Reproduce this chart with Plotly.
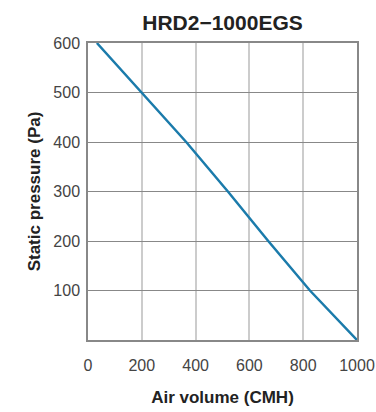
import plotly.graph_objects as go

air_volume = [33, 200, 365, 520, 670, 825, 1000]
static_pressure = [600, 500, 400, 300, 200, 100, 0]
x_ticks = [0, 200, 400, 600, 800, 1000]
y_ticks = [100, 200, 300, 400, 500, 600]

fig = go.Figure()
fig.add_trace(go.Scatter(x=air_volume, y=static_pressure, mode="lines",
                         line=dict(color="#1b7bab", width=2.5), showlegend=False))

fig.update_layout(
    width=376, height=412,
    margin=dict(l=88, r=19, t=43, b=72, autoexpand=False),
    paper_bgcolor="white", plot_bgcolor="white",
    font=dict(family="Liberation Sans, Arial, sans-serif", color="#444"),
    title=dict(text="<b>HRD2\u22121000EGS</b>", x=0.5, xanchor="center", xref="paper",
               y=1 - 23 / 412, yref="container", yanchor="middle",
               font=dict(size=21, color="#222")),
)
fig.update_xaxes(range=[0, 1000], tickvals=x_ticks, showgrid=True, gridcolor="#cccccc",
                 gridwidth=1.5, showline=True, linecolor="#888", linewidth=1.5, mirror=True,
                 zeroline=False, ticks="", tickfont=dict(size=16, color="#444"),
                 ticklabelstandoff=10, automargin=False,
                 title=dict(text="<b>Air volume (CMH)</b>", font=dict(size=17, color="#222"),
                            standoff=18))
fig.update_yaxes(range=[0, 600], tickvals=y_ticks, showgrid=True, gridcolor="#888888",
                 gridwidth=1, showline=True, linecolor="#888", linewidth=1.5, mirror=True,
                 zeroline=False, ticks="", tickfont=dict(size=16, color="#444"),
                 ticklabelstandoff=3, automargin=False,
                 title=dict(text="<b>Static pressure (Pa)</b>", font=dict(size=17, color="#222"),
                            standoff=8))

fig.write_html("out.html", config={"displayModeBar": False},
               post_script="document.body.style.margin='0';document.body.style.overflow='hidden';")
